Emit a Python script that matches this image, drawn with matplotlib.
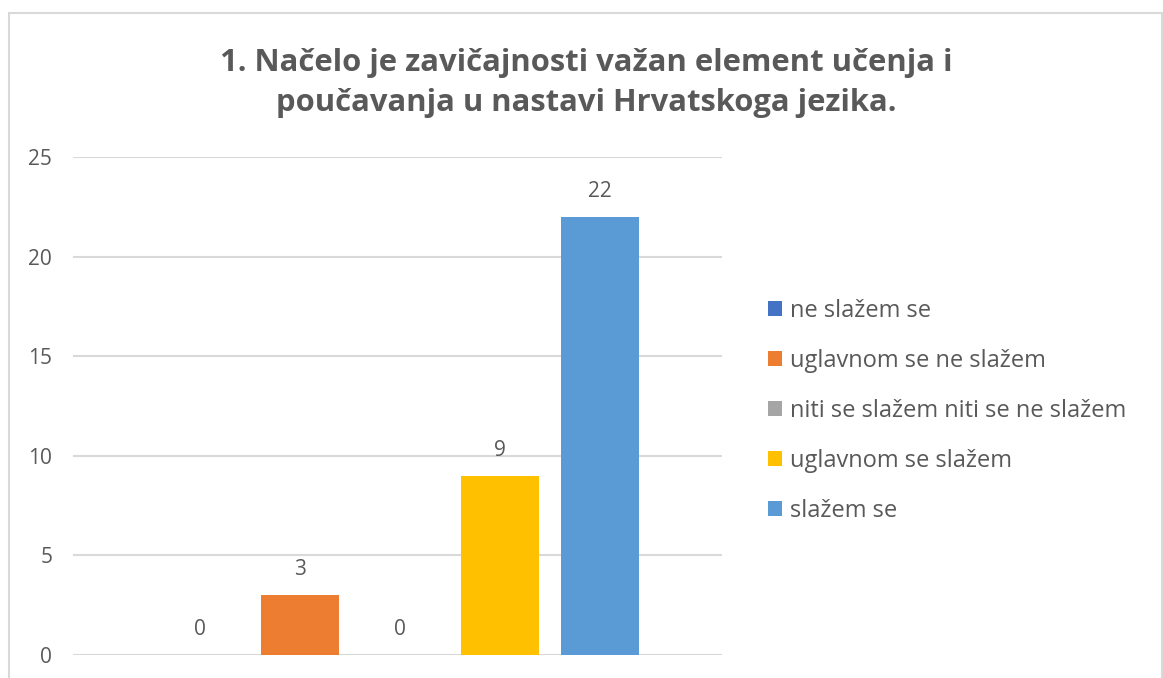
import matplotlib.pyplot as plt
from matplotlib.patches import Rectangle

plt.rcParams["font.family"] = ["Open Sans", "DejaVu Sans"]

title = "1. Načelo je zavičajnosti važan element učenja i\npoučavanja u nastavi Hrvatskoga jezika."
answers = [
    "ne slažem se",
    "uglavnom se ne slažem",
    "niti se slažem niti se ne slažem",
    "uglavnom se slažem",
    "slažem se",
]
counts = [0, 3, 0, 9, 22]
colors = ["#4472C4", "#ED7D31", "#A5A5A5", "#FFC000", "#5B9BD5"]
yticks = [0, 5, 10, 15, 20, 25]

text_gray = "#595959"
grid_gray = "#D9D9D9"

fig = plt.figure(figsize=(11.63, 6.78), dpi=100)
fig.patches.append(Rectangle((9 / 1163, -0.05), (1162 - 9) / 1163, 1.05 - 13 / 678,
                             transform=fig.transFigure, fill=False,
                             edgecolor=grid_gray, linewidth=1.5))

ax = fig.add_axes([73 / 1163, 1 - 655 / 678, (722 - 73) / 1163, (655 - 157) / 678])

bars = []
for i, (lab, val, col) in enumerate(zip(answers, counts, colors)):
    b = ax.bar(i, val, width=0.78, color=col, label=lab, zorder=3)
    bars.append(b)
    ax.text(i, val + 0.75, str(val), ha="center", va="bottom",
            fontsize=15, color=text_gray)

ax.set_xlim(-1.27, 5.22)
ax.set_ylim(0, 25)
ax.set_yticks(yticks)
ax.set_xticks([])
ax.yaxis.grid(True, color=grid_gray, linewidth=1.5, zorder=0)
ax.tick_params(axis="y", length=0, pad=15, labelsize=15, labelcolor=text_gray)
for s in ax.spines.values():
    s.set_visible(False)

fig.text(586 / 1163, 1 - 83 / 678, title, ha="center", va="center",
         fontsize=22.3, fontweight="bold", color=text_gray, linespacing=1.45)

leg = fig.legend(handles=[b[0] for b in bars], labels=answers,
                 loc="center left", bbox_to_anchor=(756 / 1163, 1 - 411 / 678),
                 frameon=False, fontsize=17, labelcolor=text_gray,
                 handlelength=0.62, handleheight=0.62, handletextpad=0.3,
                 labelspacing=1.1, borderpad=0)

fig.savefig("out.png", dpi=100, facecolor="white")
